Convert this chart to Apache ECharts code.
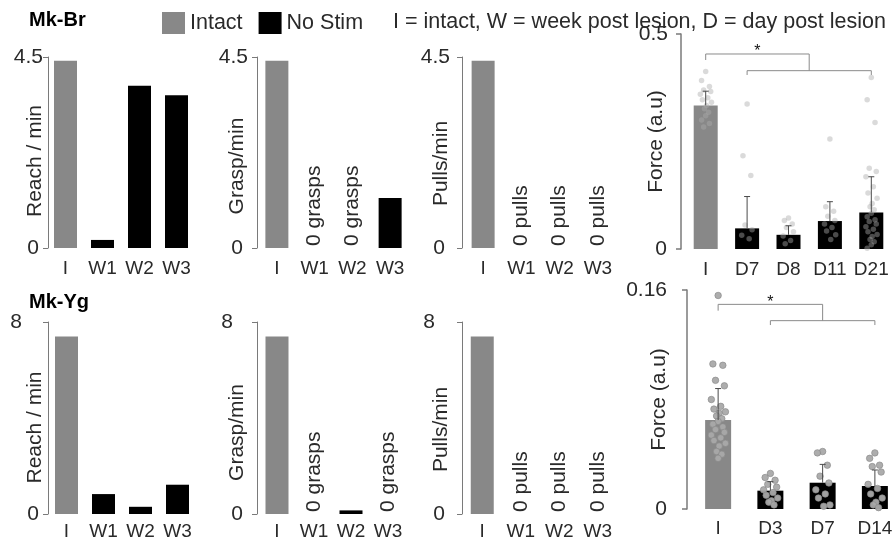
<!DOCTYPE html>
<html><head><meta charset="utf-8">
<script src="https://cdn.jsdelivr.net/npm/echarts@6/dist/echarts.min.js"></script>
<style>html,body{margin:0;padding:0;background:#fff}#c{width:896px;height:548px}</style>
</head><body><div id="c"></div>
<script>
const FONT = '"Liberation Sans", Arial, Helvetica, sans-serif';
const TXT = '#2a2a2a';
const AXC = '#7a7a7a';
const GREY = '#888888';
const BLACK = '#000000';

// ---- categories ----
const behaviorCats = ['I', 'W1', 'W2', 'W3'];
const brForceCats = ['I', 'D7', 'D8', 'D11', 'D21'];
const ygForceCats = ['I', 'D3', 'D7', 'D14'];

// ---- behaviour rates (per min) ----
const brReach = [4.41, 0.19, 3.82, 3.60];
const brGrasp = [4.41, 0, 0, 1.18];
const brPulls = [4.41, 0, 0, 0];
const ygReach = [7.4, 0.83, 0.30, 1.22];
const ygGrasp = [7.4, 0, 0.15, 0];
const ygPulls = [7.4, 0, 0, 0];

// ---- force: bar means and upper error ----
const brForceMean = [0.334, 0.048, 0.033, 0.065, 0.085];
const brForceUpper = [0.367, 0.122, 0.054, 0.110, 0.168];
const ygForceMean = [0.065, 0.0134, 0.0192, 0.0168];
const ygForceUpper = [0.088, 0.020, 0.0326, 0.0285];

// ---- force: individual trials ----
const brForceI = [0.413, 0.392, 0.378, 0.370, 0.366, 0.360, 0.352, 0.347, 0.341, 0.334, 0.326, 0.318, 0.310, 0.300, 0.292, 0.284];
const brForceD7 = [0.337, 0.217, 0.171, 0.056, 0.045, 0.032, 0.024];
const brForceD8 = [0.072, 0.066, 0.058, 0.050, 0.040, 0.030, 0.020, 0.012];
const brForceD11 = [0.256, 0.098, 0.088, 0.076, 0.066, 0.058, 0.050, 0.042, 0.033, 0.022];
const brForceD21 = [0.399, 0.347, 0.294, 0.188, 0.180, 0.168, 0.145, 0.130, 0.118, 0.106, 0.098, 0.091, 0.083, 0.075, 0.068, 0.064, 0.058, 0.052, 0.046, 0.040, 0.034, 0.029, 0.022, 0.017, 0.010, 0.002];
const ygForceI = [0.156, 0.106, 0.105, 0.094, 0.090, 0.080, 0.075, 0.073, 0.071, 0.070, 0.068, 0.066, 0.064, 0.062, 0.060, 0.058, 0.056, 0.054, 0.052, 0.050, 0.048, 0.046, 0.042, 0.040, 0.037];
const ygForceD3 = [0.026, 0.023, 0.021, 0.018, 0.016, 0.014, 0.012, 0.010, 0.008, 0.006, 0.005, 0.003];
const ygForceD7 = [0.042, 0.041, 0.032, 0.024, 0.019, 0.014, 0.011, 0.008, 0.003, 0.002];
const ygForceD14 = [0.041, 0.037, 0.032, 0.031, 0.027, 0.018, 0.015, 0.011, 0.008, 0.005, 0.003, 0.001];

// ---- significance brackets (data units) ----
const brBracket = { left: 0, gFrom: 1, gTo: 4, topY: 0.4535, topTick: 0.4395, lowY: 0.4147, lowTick: 0.4047 };
const ygBracket = { left: 0, gFrom: 1, gTo: 3, topY: 0.1495, topTick: 0.1449, lowY: 0.1376, lowTick: 0.1344 };

// deterministic horizontal spread for dots (display only)
const JIT = [0, -0.10, 0.09, -0.05, 0.12, -0.13, 0.05, -0.08, 0.14, 0.02, -0.03, 0.07];

const option = {
  animation: false,
  backgroundColor: '#fff',
  title: [
    { text: 'Mk-Br', left: 29, top: 10, padding: 0, textStyle: { fontSize: 20, fontWeight: 'bold', color: '#000', fontFamily: FONT } },
    { text: 'Mk-Yg', left: 29, top: 292, padding: 0, textStyle: { fontSize: 20, fontWeight: 'bold', color: '#000', fontFamily: FONT } },
    { text: 'I = intact, W = week post lesion, D = day post lesion', left: 393, top: 11, padding: 0, textStyle: { fontSize: 21.5, fontWeight: 'normal', color: TXT, fontFamily: FONT } }
  ],
  legend: {
    data: ['Intact', 'No Stim'], left: 162, top: 12, padding: 0, icon: 'rect',
    itemWidth: 23, itemHeight: 22, itemGap: 16, selectedMode: false,
    textStyle: { fontSize: 21.5, color: TXT, fontFamily: FONT }
  },
  grid: [], xAxis: [], yAxis: [], series: []
};

function yAxisCfg(gi, p) {
  const w = p.axisWidth || 1;
  return {
    type: 'value', gridIndex: gi, min: 0, max: p.yMax, interval: p.yMax, offset: p.offset || 0,
    name: p.yName, nameLocation: 'middle', nameGap: p.nameGap, nameMoveOverlap: false,
    nameTextStyle: { fontSize: 21, color: TXT, fontFamily: FONT, padding: [0, p.namePad || 0, 0, 0] },
    axisLine: { show: true, onZero: false, lineStyle: { color: AXC, width: w } },
    axisTick: { show: true, length: 5, lineStyle: { color: AXC, width: w } },
    splitLine: { show: false },
    axisLabel: {
      margin: p.labMargin,
      formatter: v => v === 0 ? '{z|0}' : '{t|' + String(v) + '}',
      rich: {
        z: { fontSize: 21, color: TXT, fontFamily: FONT, padding: [0, p.zeroPad || 0, 0, 0] },
        t: { fontSize: 21, color: TXT, fontFamily: FONT, padding: [0, p.topPad || 0, 0, 0] }
      }
    }
  };
}

function addGridAxes(p) {
  const gi = option.grid.length;
  option.grid.push({ left: p.left, top: p.top, width: p.width, height: p.height, outerBoundsMode: 'none' });
  option.xAxis.push({
    type: 'category', gridIndex: gi, data: p.cats,
    axisLine: { show: false, onZero: false }, axisTick: { show: false }, splitLine: { show: false },
    axisLabel: { interval: 0, margin: p.xMargin, fontSize: 19, color: TXT, fontFamily: FONT }
  });
  const xi = option.xAxis.length - 1;
  option.yAxis.push(yAxisCfg(gi, p));
  const yi = option.yAxis.length - 1;
  return { gi, xi, yi };
}

function addBars(p, xi, yi, vals) {
  option.series.push({
    type: 'bar', name: 'Intact', xAxisIndex: xi, yAxisIndex: yi, barWidth: p.barWidth, barGap: '-100%', z: 2,
    itemStyle: { color: GREY }, silent: true,
    data: vals.map((v, i) => i === 0 ? v : '-')
  });
  option.series.push({
    type: 'bar', name: 'No Stim', xAxisIndex: xi, yAxisIndex: yi, barWidth: p.barWidth, barGap: '-100%', z: 2,
    itemStyle: { color: BLACK }, silent: true,
    label: {
      show: false, formatter: p.zeroText || '', position: 'top', rotate: 90, align: 'left',
      verticalAlign: 'middle', distance: 2, fontSize: 21, color: TXT, fontFamily: FONT
    },
    data: vals.map((v, i) => i === 0 ? '-' : (v === 0 && p.zeroText ? { value: v, label: { show: true } } : v))
  });
}

function addBehavior(p) {
  const { xi, yi } = addGridAxes(p);
  addBars(p, xi, yi, p.vals);
}

function addForce(p) {
  const { gi, xi, yi } = addGridAxes(p);
  option.xAxis.push({ type: 'value', gridIndex: gi, min: -0.5, max: p.cats.length - 0.5, show: false,
    axisLine: { show: false, onZero: false }, axisTick: { show: false }, axisLabel: { show: false }, splitLine: { show: false } });
  const xv = option.xAxis.length - 1;
  addBars(p, xi, yi, p.mean);
  const pts = [];
  p.groups.forEach((arr, g) => arr.forEach((v, k) => pts.push([g + JIT[k % JIT.length], v])));
  option.series.push({
    type: 'scatter', xAxisIndex: xv, yAxisIndex: yi, z: 3, silent: true,
    symbol: 'circle', symbolSize: p.dotSize, itemStyle: p.dotStyle, data: pts
  });
  option.series.push({
    type: 'custom', xAxisIndex: xv, yAxisIndex: yi, z: 4, silent: true,
    data: p.mean.map((m, i) => [i, m, p.upper[i]]),
    renderItem: (params, api) => {
      const x = api.value(0);
      const a = api.coord([x, api.value(1)]).slice(), b = api.coord([x, api.value(2)]).slice();
      const st = { stroke: '#4a4a4a', lineWidth: 1 };
      return {
        type: 'group', children: [
          { type: 'line', shape: { x1: a[0], y1: a[1], x2: b[0], y2: b[1] }, style: st },
          { type: 'line', shape: { x1: b[0] - 3, y1: b[1], x2: b[0] + 3, y2: b[1] }, style: st }
        ]
      };
    }
  });
  const br = p.bracket;
  option.series.push({
    type: 'custom', xAxisIndex: xv, yAxisIndex: yi, z: 4, silent: true,
    data: [[0, 0]],
    renderItem: (params, api) => {
      const c = (x, y) => api.coord([x, y]).slice();
      const mid = (br.gFrom + br.gTo) / 2;
      const st = { stroke: '#8a8a8a', lineWidth: 1, fill: null };
      const star = c((br.left + mid) / 2, br.topY);
      return {
        type: 'group', children: [
          { type: 'polyline', shape: { points: [c(br.left, br.topTick), c(br.left, br.topY), c(mid, br.topY), c(mid, br.lowY)] }, style: st },
          { type: 'polyline', shape: { points: [c(br.gFrom, br.lowTick), c(br.gFrom, br.lowY), c(br.gTo, br.lowY), c(br.gTo, br.lowTick)] }, style: st },
          { type: 'text', x: star[0], y: star[1] - 2, style: { text: '*', fontSize: 16, fill: '#111', align: 'center', verticalAlign: 'middle', fontFamily: FONT } }
        ]
      };
    }
  });
}

// ---- top row: Mk-Br ----
addBehavior({ cats: behaviorCats, vals: brReach, left: 47, top: 57, width: 148, height: 191, offset: -1,
  yMax: 4.5, yName: 'Reach / min', nameGap: 2, namePad: 17, labMargin: 5, zeroPad: 4, topPad: 0, xMargin: 11, barWidth: 23 });
addBehavior({ cats: behaviorCats, vals: brGrasp, left: 258, top: 57, width: 151, height: 191, offset: 1,
  yMax: 4.5, yName: 'Grasp/min', nameGap: 9, namePad: 27, labMargin: 9, zeroPad: 5, topPad: 0, xMargin: 11, barWidth: 23, zeroText: '0 grasps' });
addBehavior({ cats: behaviorCats, vals: brPulls, left: 464, top: 57, width: 153, height: 191, offset: 2,
  yMax: 4.5, yName: 'Pulls/min', nameGap: 10, namePad: 22, labMargin: 12, zeroPad: 5, topPad: 0, xMargin: 11, barWidth: 23, zeroText: '0 pulls' });
addForce({ cats: brForceCats, mean: brForceMean, upper: brForceUpper, groups: [brForceI, brForceD7, brForceD8, brForceD11, brForceD21],
  bracket: brBracket, left: 685, top: 34, width: 207, height: 215, offset: 4, axisWidth: 1.5,
  yMax: 0.5, yName: 'Force (a.u)', nameGap: 14, namePad: 0, labMargin: 13, zeroPad: 1, topPad: 0, xMargin: 11, barWidth: 24,
  dotSize: 5.5, dotStyle: { color: 'rgba(170,170,170,0.55)' } });

// ---- bottom row: Mk-Yg ----
addBehavior({ cats: behaviorCats, vals: ygReach, left: 48, top: 322, width: 148, height: 192, offset: 0,
  yMax: 8, yName: 'Reach / min', nameGap: 2, namePad: 19, labMargin: 9, zeroPad: 0, topPad: 17, xMargin: 8, barWidth: 23 });
addBehavior({ cats: behaviorCats, vals: ygGrasp, left: 258.5, top: 322, width: 148, height: 192, offset: 1.5,
  yMax: 8, yName: 'Grasp/min', nameGap: 9, namePad: 29, labMargin: 14, zeroPad: 0, topPad: 10, xMargin: 8, barWidth: 23, zeroText: '0 grasps' });
addBehavior({ cats: behaviorCats, vals: ygPulls, left: 463, top: 322, width: 154, height: 192, offset: 1,
  yMax: 8, yName: 'Pulls/min', nameGap: 10, namePad: 23, labMargin: 17, zeroPad: 0, topPad: 10, xMargin: 8, barWidth: 23, zeroText: '0 pulls' });
addForce({ cats: ygForceCats, mean: ygForceMean, upper: ygForceUpper, groups: [ygForceI, ygForceD3, ygForceD7, ygForceD14],
  bracket: ygBracket, left: 692, top: 290, width: 209, height: 219, offset: 5, axisWidth: 1.5,
  yMax: 0.16, yName: 'Force (a.u)', nameGap: 17, namePad: 0, labMargin: 20, zeroPad: 0, topPad: 0, xMargin: 10, barWidth: 26,
  dotSize: 6.5, dotStyle: { color: '#a9a9a9', borderColor: '#8a8a8a', borderWidth: 0.7, opacity: 0.95 } });

const chart = echarts.init(document.getElementById('c'), null, { renderer: 'canvas' });
chart.setOption(option);
</script>
</body></html>
